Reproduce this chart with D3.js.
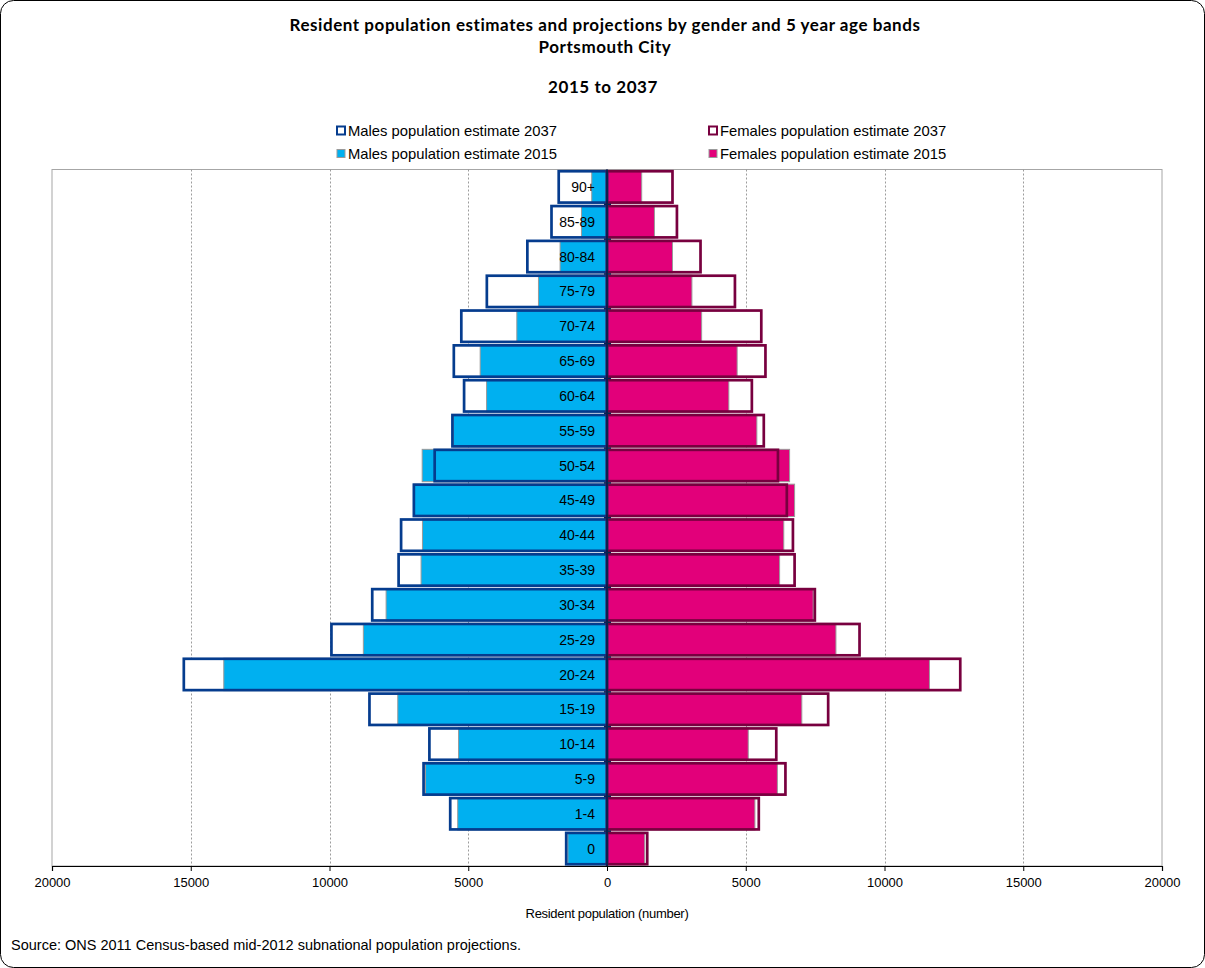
<!DOCTYPE html>
<html>
<head>
<meta charset="utf-8">
<script src="https://cdn.jsdelivr.net/npm/d3@7/dist/d3.min.js"></script>
<style>
  html, body { margin: 0; padding: 0; background: #fff; }
  svg { display: block; }
  text { font-family: "Liberation Sans", Arial, sans-serif; fill: #000; }
  .title { font-family: Lato, "Open Sans", sans-serif; font-weight: bold; font-size: 17px; letter-spacing: 0.55px; }
</style>
</head>
<body>
<svg id="chart" width="1205" height="968"></svg>
<script>
// Age bands, youngest first
const ages = ["0", "1-4", "5-9", "10-14", "15-19", "20-24", "25-29", "30-34", "35-39", "40-44",
              "45-49", "50-54", "55-59", "60-64", "65-69", "70-74", "75-79", "80-84", "85-89", "90+"];

// Resident population by age band
const male2015   = [1410, 5380, 6540, 5350, 7540, 13810, 8780, 7960, 6700, 6650,
                    6970, 6660, 5540, 4340, 4570, 3250, 2470, 1690, 920, 550];
const male2037   = [1470, 5650, 6610, 6400, 8560, 15250, 9930, 8460, 7510, 7420,
                    6960, 6210, 5570, 5150, 5520, 5250, 4330, 2870, 2000, 1740];
const female2015 = [1360, 5330, 6140, 5090, 7020, 11620, 8250, 7430, 6220, 6370,
                    6760, 6580, 5400, 4390, 4690, 3410, 3060, 2360, 1710, 1250];
const female2037 = [1450, 5470, 6430, 6100, 7970, 12730, 9100, 7490, 6760, 6700,
                    6480, 6160, 5650, 5220, 5710, 5560, 4610, 3370, 2520, 2360];

const xTicks = [-20000, -15000, -10000, -5000, 0, 5000, 10000, 15000, 20000];

const titleLines = ["Resident population estimates and projections by gender and 5 year age bands",
                    "Portsmouth City"];
const subTitle = "2015 to 2037";
const legendLabels = ["Males population estimate 2037", "Females population estimate 2037",
                      "Males population estimate 2015", "Females population estimate 2015"];
const xAxisTitle = "Resident population (number)";
const sourceNote = "Source: ONS 2011 Census-based mid-2012 subnational population projections.";

const C = {
  maleFill: "#00b0f0",
  femaleFill: "#e2007a",
  maleLine: "#053c8e",
  femaleLine: "#78003f",
  fillEdge: "#9a9a9a",
  grid: "#9c9c9c",
  axis: "#0a2250"
};

const svg = d3.select("#chart");

// Outer frame
svg.append("rect")
  .attr("x", 0.5).attr("y", 0.5).attr("width", 1204).attr("height", 967)
  .attr("rx", 13).attr("ry", 13)
  .attr("fill", "#fff").attr("stroke", "#000").attr("stroke-width", 1);

// Titles
svg.append("text").attr("class", "title").attr("x", 605).attr("y", 31)
  .attr("text-anchor", "middle").text(titleLines[0]);
svg.append("text").attr("class", "title").attr("x", 605).attr("y", 53)
  .attr("text-anchor", "middle").text(titleLines[1]);
svg.append("text").attr("class", "title").attr("x", 603).attr("y", 93)
  .attr("text-anchor", "middle").text(subTitle);

// Scales
const plot = { left: 52, right: 1162, top: 169.5, bottom: 866 };
const x = d3.scaleLinear().domain([-20000, 20000]).range([plot.left, plot.right]);
const y = d3.scaleBand().domain(ages.slice().reverse())
  .range([plot.top, plot.bottom]).paddingInner(0.1).paddingOuter(0.05);

// Plot area frame
svg.append("rect")
  .attr("x", plot.left).attr("y", plot.top)
  .attr("width", plot.right - plot.left).attr("height", plot.bottom - plot.top)
  .attr("fill", "none").attr("stroke", "#a6a6a6").attr("stroke-width", 1);

// Dotted vertical gridlines
svg.append("g").selectAll("line")
  .data(xTicks.filter(t => t !== 0 && Math.abs(t) !== 20000))
  .join("line")
  .attr("x1", d => Math.round(x(d)) + 0.5).attr("x2", d => Math.round(x(d)) + 0.5)
  .attr("y1", plot.top).attr("y2", plot.bottom)
  .attr("stroke", C.grid).attr("stroke-width", 1).attr("stroke-dasharray", "2,2");

// Rows of data
const rows = ages.map((a, i) => ({
  age: a, m15: male2015[i], m37: male2037[i], f15: female2015[i], f37: female2037[i]
}));

const bh = y.bandwidth();
const g = svg.append("g");

// 2037 white backgrounds
g.selectAll("rect.m37bg").data(rows).join("rect").attr("class", "m37bg")
  .attr("x", d => x(-d.m37)).attr("y", d => y(d.age))
  .attr("width", d => x(0) - x(-d.m37)).attr("height", bh).attr("fill", "#fff");
g.selectAll("rect.f37bg").data(rows).join("rect").attr("class", "f37bg")
  .attr("x", x(0)).attr("y", d => y(d.age))
  .attr("width", d => x(d.f37) - x(0)).attr("height", bh).attr("fill", "#fff");

// 2015 filled bars
g.selectAll("rect.m15").data(rows).join("rect").attr("class", "m15")
  .attr("x", d => x(-d.m15)).attr("y", d => y(d.age) - 0.5)
  .attr("width", d => x(0) - x(-d.m15)).attr("height", bh + 1)
  .attr("fill", C.maleFill).attr("stroke", C.fillEdge).attr("stroke-width", 1);
g.selectAll("rect.f15").data(rows).join("rect").attr("class", "f15")
  .attr("x", x(0)).attr("y", d => y(d.age) - 0.5)
  .attr("width", d => x(d.f15) - x(0)).attr("height", bh + 1)
  .attr("fill", C.femaleFill).attr("stroke", C.fillEdge).attr("stroke-width", 1);

// 2037 outlines
g.selectAll("rect.m37").data(rows).join("rect").attr("class", "m37")
  .attr("x", d => x(-d.m37)).attr("y", d => y(d.age))
  .attr("width", d => x(0) - x(-d.m37)).attr("height", bh)
  .attr("fill", "none").attr("stroke", C.maleLine).attr("stroke-width", 2.7);
g.selectAll("rect.f37").data(rows).join("rect").attr("class", "f37")
  .attr("x", x(0)).attr("y", d => y(d.age))
  .attr("width", d => x(d.f37) - x(0)).attr("height", bh)
  .attr("fill", "none").attr("stroke", C.femaleLine).attr("stroke-width", 2.7);

// Central vertical axis with ticks at band boundaries
const boundaries = d3.range(ages.length + 1).map(i => plot.top + i * (plot.bottom - plot.top) / ages.length);
svg.append("line")
  .attr("x1", x(0)).attr("x2", x(0)).attr("y1", plot.top).attr("y2", plot.bottom)
  .attr("stroke", C.axis).attr("stroke-width", 2);
svg.append("g").selectAll("line").data(boundaries.slice(1, -1)).join("line")
  .attr("x1", x(0) - 3).attr("x2", x(0) + 4)
  .attr("y1", d => d).attr("y2", d => d)
  .attr("stroke", C.axis).attr("stroke-width", 1.5);

// Category labels
svg.append("g").selectAll("text").data(ages).join("text")
  .attr("x", x(0) - 12).attr("y", d => y(d) + bh / 2)
  .attr("dy", "0.36em").attr("text-anchor", "end")
  .style("font-size", "14px").text(d => d);

// Bottom axis
const xAxis = d3.axisBottom(x).tickValues(xTicks)
  .tickFormat(d => String(Math.abs(d))).tickSize(5).tickPadding(7);
const ax = svg.append("g").attr("transform", `translate(0,${plot.bottom})`).call(xAxis);
ax.select(".domain").attr("stroke", "#000").attr("stroke-width", 1.2);
ax.selectAll(".tick line").attr("stroke", "#000");
ax.selectAll(".tick text").style("font-family", "'Liberation Sans', Arial, sans-serif")
  .style("font-size", "13px").attr("fill", "#000");

svg.append("text").attr("x", x(0)).attr("y", 918).attr("text-anchor", "middle")
  .style("font-size", "13px").style("letter-spacing", "-0.3px").text(xAxisTitle);

svg.append("text").attr("x", 11).attr("y", 950)
  .style("font-size", "14.5px").text(sourceNote);

// Legend
const legendPos = [
  { x: 337, y: 131 }, { x: 709, y: 131 },
  { x: 337, y: 154 }, { x: 709, y: 154 }
];
const legendStyle = [
  { fill: "#fff", stroke: C.maleLine, sw: 2 },
  { fill: "#fff", stroke: C.femaleLine, sw: 2 },
  { fill: C.maleFill, stroke: C.fillEdge, sw: 1 },
  { fill: C.femaleFill, stroke: C.fillEdge, sw: 1 }
];
const leg = svg.append("g").selectAll("g").data(legendLabels).join("g")
  .attr("transform", (d, i) => `translate(${legendPos[i].x},${legendPos[i].y})`);
leg.append("rect").attr("x", 0).attr("y", -4.5).attr("width", 8).attr("height", 8)
  .attr("fill", (d, i) => legendStyle[i].fill)
  .attr("stroke", (d, i) => legendStyle[i].stroke)
  .attr("stroke-width", (d, i) => legendStyle[i].sw);
leg.append("text").attr("x", 11).attr("y", 0).attr("dy", "0.36em")
  .style("font-size", "14.8px").text(d => d);
</script>
</body>
</html>
